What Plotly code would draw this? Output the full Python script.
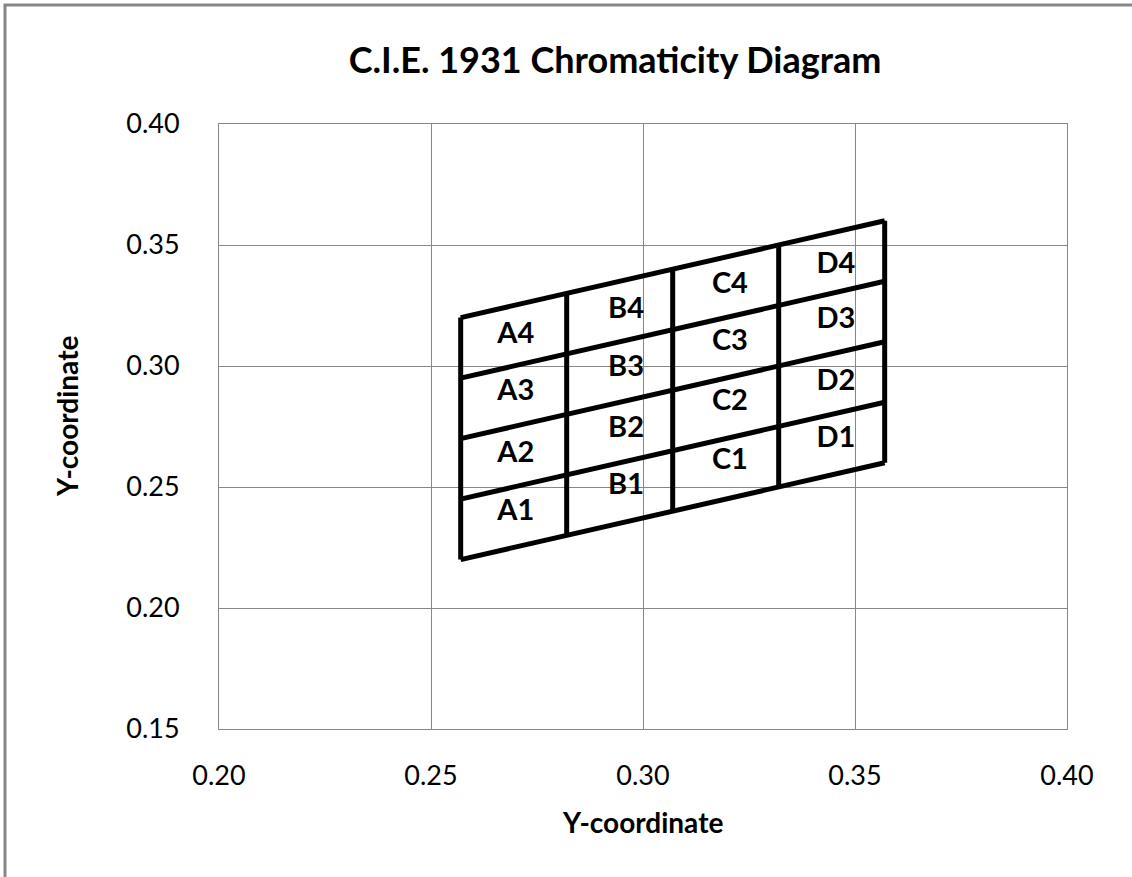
import plotly.graph_objects as go

# Grid geometry
column_x = [0.257, 0.282, 0.307, 0.332, 0.357]
bottom_y = [0.220, 0.230, 0.240, 0.250, 0.260]
row_step = 0.025
n_rows = 4

# Cell labels
label_text = ["A1", "A2", "A3", "A4",
              "B1", "B2", "B3", "B4",
              "C1", "C2", "C3", "C4",
              "D1", "D2", "D3", "D4"]
label_x = [0.270, 0.270, 0.270, 0.270,
           0.296, 0.296, 0.296, 0.296,
           0.3205, 0.3205, 0.3205, 0.3205,
           0.3455, 0.3455, 0.3455, 0.3455]
label_y = [0.2394, 0.2633, 0.2888, 0.3127,
           0.2500, 0.2736, 0.2990, 0.3230,
           0.2604, 0.2847, 0.3098, 0.3333,
           0.2694, 0.2929, 0.3189, 0.3415]

x_ticks = [0.20, 0.25, 0.30, 0.35, 0.40]
y_ticks = [0.15, 0.20, 0.25, 0.30, 0.35, 0.40]

# Build the line path from the arrays
lx, ly = [], []
for k in range(n_rows + 1):
    lx += column_x + [None]
    ly += [b + k * row_step for b in bottom_y] + [None]
for j in range(len(column_x)):
    lx += [column_x[j], column_x[j], None]
    ly += [bottom_y[j], bottom_y[j] + n_rows * row_step, None]

FONT = "Lato"
GRAY = "#878787"

fig = go.Figure()
fig.add_trace(go.Scatter(x=lx, y=ly, mode="lines",
                         line=dict(color="black", width=5),
                         hoverinfo="skip", showlegend=False))
fig.add_trace(go.Scatter(x=label_x, y=label_y, mode="text", text=label_text,
                         textfont=dict(family=FONT, size=29, color="black", weight="bold"),
                         textposition="middle center", showlegend=False))

fig.update_layout(
    width=1132, height=877,
    margin=dict(l=219, r=65, t=124, b=148),
    paper_bgcolor="white", plot_bgcolor="white",
    font=dict(family=FONT, color="black"),
    title=dict(text="<b>C.I.E. 1931 Chromaticity Diagram</b>",
               x=615 / 1132, xanchor="center", y=1 - 60 / 877, yanchor="middle",
               font=dict(family=FONT, size=36, color="black")),
    xaxis=dict(range=[0.20, 0.40], tickvals=x_ticks,
               ticktext=[f"{v:.2f}" for v in x_ticks],
               showgrid=True, gridcolor=GRAY, gridwidth=1,
               showline=True, linecolor=GRAY, linewidth=1, mirror=True,
               zeroline=False, ticks="", ticklabelstandoff=23,
               tickfont=dict(family=FONT, size=27, color="black")),
    yaxis=dict(range=[0.15, 0.40], tickvals=y_ticks,
               ticktext=[f"{v:.2f}" for v in y_ticks],
               showgrid=True, gridcolor=GRAY, gridwidth=1,
               showline=True, linecolor=GRAY, linewidth=1, mirror=True,
               zeroline=False, ticks="", ticklabelstandoff=33,
               tickfont=dict(family=FONT, size=27, color="black")),
    annotations=[
        dict(text="<b>Y-coordinate</b>", xref="paper", yref="paper",
             x=(642 - 219) / 848, y=(729 - 822) / 605, xanchor="center", yanchor="middle",
             showarrow=False, font=dict(family=FONT, size=28, color="black")),
        dict(text="<b>Y-coordinate</b>", xref="paper", yref="paper",
             x=(67 - 219) / 848, y=(729 - 417) / 605, xanchor="center", yanchor="middle",
             textangle=-90, showarrow=False, font=dict(family=FONT, size=28, color="black")),
    ],
    shapes=[dict(type="rect", xref="paper", yref="paper",
                 x0=(5 - 219) / 848, x1=1.3, y0=-0.5, y1=(729 - 5) / 605,
                 line=dict(color=GRAY, width=3), fillcolor="rgba(0,0,0,0)", layer="below")],
)

fig.write_html("out.html", config={"displayModeBar": False},
               post_script="document.body.style.margin='0';")
